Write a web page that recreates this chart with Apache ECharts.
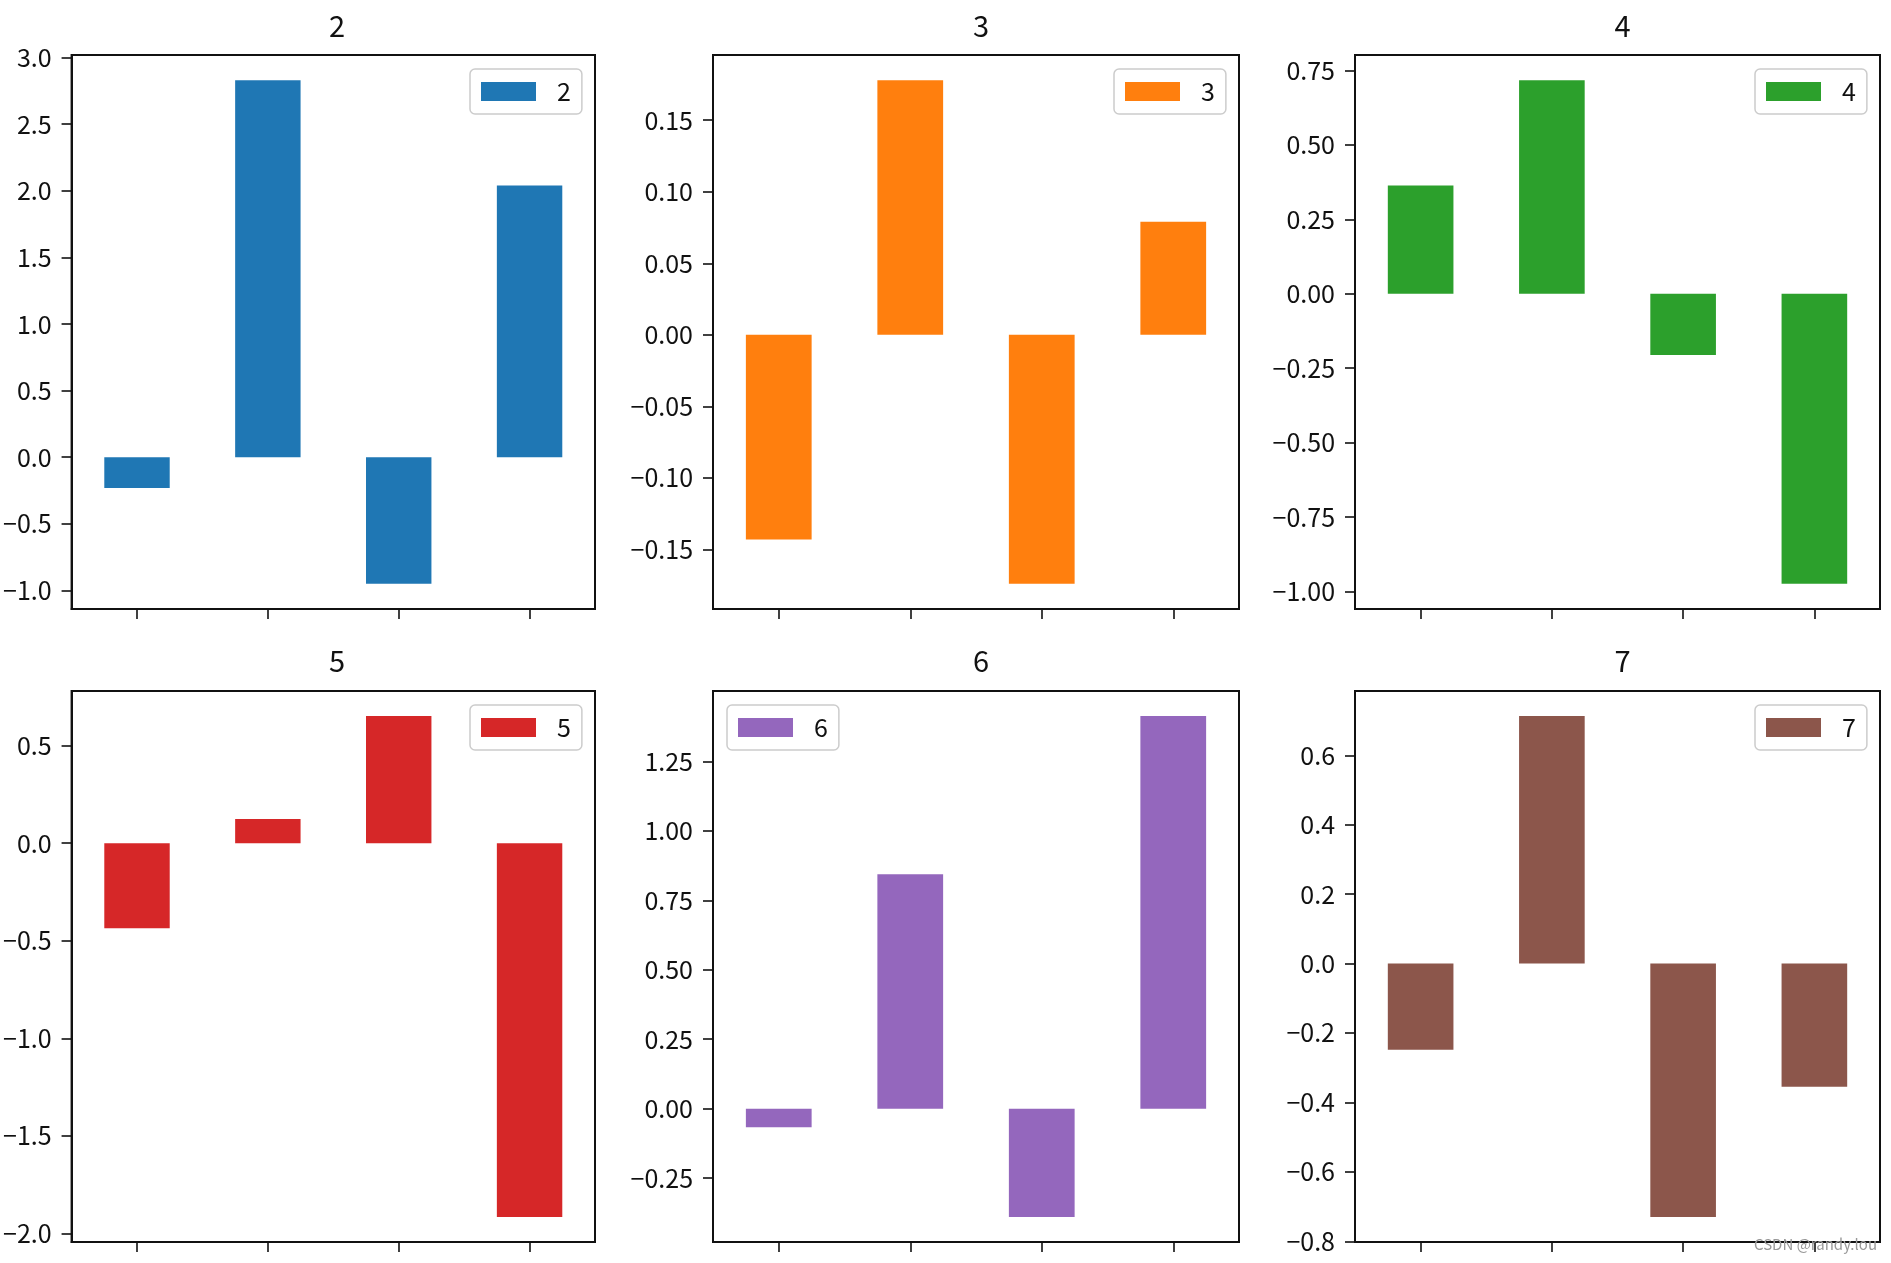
<!DOCTYPE html>
<html>
<head>
<meta charset="utf-8">
<script src="https://cdn.jsdelivr.net/npm/echarts@6/dist/echarts.min.js"></script>
<style>
html,body{margin:0;padding:0;background:#fff;}
#chart{width:1891px;height:1263px;}
</style>
</head>
<body>
<div id="chart"></div>
<script>
// ---- data ----
const categories = ['0', '1', '2', '3'];
const seriesNames = ['2', '3', '4', '5', '6', '7'];
const values2 = [-0.23, 2.83, -0.95, 2.04];
const values3 = [-0.143, 0.178, -0.174, 0.079];
const values4 = [0.363, 0.717, -0.206, -0.974];
const values5 = [-0.436, 0.124, 0.652, -1.916];
const values6 = [-0.067, 0.844, -0.390, 1.414];
const values7 = [-0.248, 0.713, -0.730, -0.355];
const ticks2 = [-1.0, -0.5, 0.0, 0.5, 1.0, 1.5, 2.0, 2.5, 3.0];
const ticks3 = [-0.15, -0.10, -0.05, 0.00, 0.05, 0.10, 0.15];
const ticks4 = [-1.00, -0.75, -0.50, -0.25, 0.00, 0.25, 0.50, 0.75];
const ticks5 = [-2.0, -1.5, -1.0, -0.5, 0.0, 0.5];
const ticks6 = [-0.25, 0.00, 0.25, 0.50, 0.75, 1.00, 1.25];
const ticks7 = [-0.8, -0.6, -0.4, -0.2, 0.0, 0.2, 0.4, 0.6];
const tickDecimals = [1, 2, 2, 1, 2, 1];
const colors = ['#1f77b4', '#ff7f0e', '#2ca02c', '#d62728', '#9467bd', '#8c564b'];

const allValues = [values2, values3, values4, values5, values6, values7];
const allTicks = [ticks2, ticks3, ticks4, ticks5, ticks6, ticks7];

// ---- layout ----
const FONT = '"Noto Sans CJK SC", "Noto Sans", sans-serif';
const colLeft = [69, 713, 1355];
const colWidth = [526, 526, 525];
const rowTop = [55, 691];
const rowHeight = [554, 551];
const titleTop = [6, 641];
const legendOnLeft = [false, false, false, false, true, false];

const grids = [], xAxes = [], yAxes = [], series = [], titles = [], legends = [];

allValues.forEach((vals, i) => {
  const r = Math.floor(i / 3), c = i % 3;
  const left = colLeft[c], width = colWidth[c], top = rowTop[r], height = rowHeight[r];
  grids.push({
    left: left, top: top, width: width, height: height,
    show: true, borderColor: '#111', borderWidth: 2, backgroundColor: '#fff'
  });
  const dmin = Math.min(0, ...vals), dmax = Math.max(0, ...vals);
  const span = dmax - dmin;
  const yMin = dmin - 0.05 * span, yMax = dmax + 0.05 * span;
  const dec = tickDecimals[i];
  const tks = allTicks[i];
  xAxes.push({
    gridIndex: i, type: 'category', data: categories,
    boundaryGap: true,
    axisLine: {show: true, onZero: false, lineStyle: {color: '#111', width: 2}},
    axisTick: {show: true, alignWithLabel: true, interval: 0, length: 10, lineStyle: {color: '#111', width: 1.6}},
    axisLabel: {show: false},
    splitLine: {show: false}
  });
  yAxes.push({
    gridIndex: i, type: 'value', min: yMin, max: yMax,
    axisLine: {show: true, lineStyle: {color: '#111', width: 2}},
    axisTick: {show: true, length: 10, customValues: tks, lineStyle: {color: '#111', width: 1.6}},
    axisLabel: {
      show: true, customValues: tks, margin: 20,
      fontFamily: FONT, fontSize: 25, color: '#111',
      formatter: v => (v < -1e-9 ? '\u2212' : '') + Math.abs(v).toFixed(dec)
    },
    splitLine: {show: false}
  });
  series.push({
    type: 'bar', name: seriesNames[i], xAxisIndex: i, yAxisIndex: i,
    data: vals, barWidth: '50%',
    itemStyle: {color: colors[i]}
  });
  titles.push({
    text: seriesNames[i], left: left + width / 2, top: titleTop[r], textAlign: 'center',
    textStyle: {fontFamily: FONT, fontSize: 29, fontWeight: 'normal', color: '#111', lineHeight: 29}
  });
  const boxW = 112;
  legends.push({
    data: [seriesNames[i]],
    left: legendOnLeft[i] ? left + 14 : left + width - 13 - boxW,
    top: top + 14,
    orient: 'horizontal',
    padding: [10, 11, 10, 11],
    itemWidth: 55, itemHeight: 19,
    icon: 'rect',
    backgroundColor: 'rgba(255,255,255,0.8)',
    borderColor: '#cccccc', borderWidth: 1.5, borderRadius: 5,
    textStyle: {fontFamily: FONT, fontSize: 25, color: '#111', lineHeight: 25, padding: [0, 0, 0, 16]},
    itemStyle: {borderWidth: 0},
    selectedMode: false
  });
});

const chart = echarts.init(document.getElementById('chart'), null, {renderer: 'canvas'});
chart.setOption({
  backgroundColor: '#ffffff',
  animation: false,
  title: titles,
  legend: legends,
  grid: grids,
  xAxis: xAxes,
  yAxis: yAxes,
  series: series,
  graphic: [{
    type: 'text', right: 14, top: 1237, z: 100,
    style: {text: 'CSDN @randy.lou', fontSize: 15, fontFamily: FONT, fill: '#999999'}
  }]
});
</script>
</body>
</html>
